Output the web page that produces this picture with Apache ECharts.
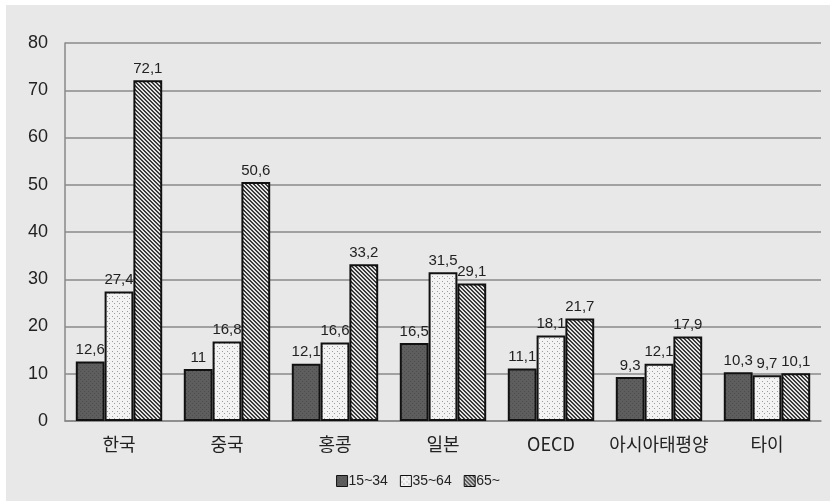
<!DOCTYPE html>
<html>
<head>
    <meta charset="utf-8">
    <title>연령대별 비율</title>
    <script src="https://cdn.jsdelivr.net/npm/echarts@6/dist/echarts.min.js"></script>
    <style>
        body { margin:0; background:#fff; }
        #main { position:absolute; left:6px; top:5px; width:824px; height:496px; background:#e8e8e8; }
    </style>
</head>
<body>
<div id="main"></div>
<script type="text/javascript">
    // 데이터
    var categories = ['한국', '중국', '홍콩', '일본', 'OECD', '아시아태평양', '타이'];
    var seriesNames = ['15~34', '35~64', '65~'];
    var age15 = [12.6, 11, 12.1, 16.5, 11.1, 9.3, 10.3];
    var age35 = [27.4, 16.8, 16.6, 31.5, 18.1, 12.1, 9.7];
    var age65 = [72.1, 50.6, 33.2, 29.1, 21.7, 17.9, 10.1];
    var yTicks = [0, 10, 20, 30, 40, 50, 60, 70, 80];

    // 패턴 만들기
    function makePattern(kind) {
        var c = document.createElement('canvas');
        var ctx = c.getContext('2d');
        if (kind === 'dark') {
            c.width = 4; c.height = 4;
            ctx.fillStyle = '#5e5e5e';
            ctx.fillRect(0, 0, 4, 4);
            ctx.fillStyle = '#4c4c4c';
            ctx.fillRect(0, 0, 1, 1);
            ctx.fillRect(2, 2, 1, 1);
        } else if (kind === 'dots') {
            c.width = 5; c.height = 5;
            ctx.fillStyle = '#f3f3f3';
            ctx.fillRect(0, 0, 5, 5);
            ctx.fillStyle = '#9c9c9c';
            ctx.fillRect(1, 1, 1, 1);
            ctx.fillRect(3, 3, 1, 1);
        } else {
            c.width = 4; c.height = 4;
            ctx.fillStyle = '#e2e2e2';
            ctx.fillRect(0, 0, 4, 4);
            ctx.fillStyle = '#3a3a3a';
            for (var i = 0; i < 4; i++) {
                ctx.fillRect(i, i, 1, 1);
                ctx.fillRect((i + 1) % 4, i, 1, 1);
            }
        }
        return { image: c, repeat: 'repeat' };
    }

    var patterns = [makePattern('dark'), makePattern('dots'), makePattern('hatch')];
    var values = [age15, age35, age65];

    var series = [];
    for (var k = 0; k < 3; k++) {
        series.push({
            name: seriesNames[k],
            type: 'bar',
            data: values[k],
            barGap: '0%',
            barCategoryGap: '20%',
            itemStyle: { color: patterns[k], borderColor: '#111', borderWidth: 2 },
            label: {
                show: true,
                position: 'top',
                distance: 4,
                fontSize: 15,
                color: '#222',
                formatter: function (p) { return String(p.value).replace('.', ','); }
            }
        });
    }

    var myChart = echarts.init(document.getElementById('main'));
    myChart.setOption({
        animation: false,
        textStyle: { fontFamily: 'Liberation Sans, Noto Sans CJK KR' },
        grid: { left: 59, right: 9, top: 38, bottom: 80, containLabel: false },
        legend: {
            bottom: 8,
            left: 'center',
            icon: 'rect',
            itemWidth: 11,
            itemHeight: 11,
            itemGap: 12,
            itemStyle: { borderColor: '#111', borderWidth: 1 },
            textStyle: { fontSize: 14, color: '#222', padding: [0, 0, 0, -4] },
            data: seriesNames
        },
        xAxis: {
            type: 'category',
            data: categories,
            axisTick: { show: false },
            axisLine: { lineStyle: { color: '#888', width: 1.5 } },
            axisLabel: { interval: 0, fontSize: 18, color: '#222', margin: 14, fontFamily: 'Noto Sans CJK KR' }
        },
        yAxis: {
            type: 'value',
            min: yTicks[0],
            max: yTicks[yTicks.length - 1],
            interval: 10,
            axisLine: { show: true, lineStyle: { color: '#888', width: 1.5 } },
            axisTick: { show: false },
            axisLabel: { fontSize: 18, color: '#222', margin: 17 },
            splitLine: { lineStyle: { color: '#8a8a8a', width: 1.5 } }
        },
        series: series
    });
</script>
</body>
</html>
